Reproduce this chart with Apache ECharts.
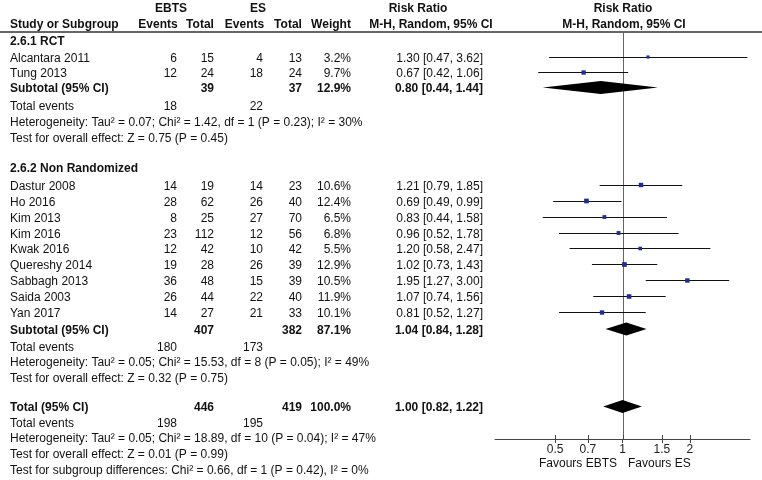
<!DOCTYPE html>
<html><head><meta charset="utf-8">
<script src="https://cdn.jsdelivr.net/npm/echarts@6/dist/echarts.min.js"></script>
<style>html,body{margin:0;padding:0;background:#fff}#c{width:762px;height:480px}</style>
</head><body><div id="c"></div>
<script>
// ---------- data ----------
const studies = ['Alcantara 2011','Tung 2013','Dastur 2008','Ho 2016','Kim 2013','Kim 2016','Kwak 2016','Quereshy 2014','Sabbagh 2013','Saida 2003','Yan 2017'];
const ebtsEvents = [6,12,14,28,8,23,12,19,36,26,14];
const ebtsTotal = [15,24,19,62,25,112,42,28,48,44,27];
const esEvents = [4,18,14,26,27,12,10,26,15,22,21];
const esTotal = [13,24,23,40,70,56,42,39,39,40,33];
const weights = [3.2,9.7,10.6,12.4,6.5,6.8,5.5,12.9,10.5,11.9,10.1];
const rr = [1.30,0.67,1.21,0.69,0.83,0.96,1.20,1.02,1.95,1.07,0.81];
const rrLow = [0.47,0.42,0.79,0.49,0.44,0.52,0.58,0.73,1.27,0.74,0.52];
const rrHigh = [3.62,1.06,1.85,0.99,1.58,1.78,2.47,1.43,3.00,1.56,1.27];

const groupTitles = ['2.6.1 RCT','2.6.2 Non Randomized'];
const pooledNames = ['Subtotal (95% CI)','Subtotal (95% CI)','Total (95% CI)'];
const pooledEbtsTotal = [39,407,446];
const pooledEsTotal = [37,382,419];
const pooledWeight = [12.9,87.1,100.0];
const pooledRR = [0.80,1.04,1.00];
const pooledLow = [0.44,0.84,0.82];
const pooledHigh = [1.44,1.28,1.22];
const totalEventsEbts = [18,180,198];
const totalEventsEs = [22,173,195];
const heterogeneity = [
  'Heterogeneity: Tau\u00b2 = 0.07; Chi\u00b2 = 1.42, df = 1 (P = 0.23); I\u00b2 = 30%',
  'Heterogeneity: Tau\u00b2 = 0.05; Chi\u00b2 = 15.53, df = 8 (P = 0.05); I\u00b2 = 49%',
  'Heterogeneity: Tau\u00b2 = 0.05; Chi\u00b2 = 18.89, df = 10 (P = 0.04); I\u00b2 = 47%'
];
const overallEffect = [
  'Test for overall effect: Z = 0.75 (P = 0.45)',
  'Test for overall effect: Z = 0.32 (P = 0.75)',
  'Test for overall effect: Z = 0.01 (P = 0.99)'
];
const subgroupTest = 'Test for subgroup differences: Chi\u00b2 = 0.66, df = 1 (P = 0.42), I\u00b2 = 0%';
const tickValues = [0.5,0.7,1,1.5,2];
const favours = ['Favours EBTS','Favours ES'];

// ---------- layout ----------
const studyY = [58.5,74,186.5,202.5,218.5,234.5,250,266,282,298,314];
const groupY = [42,169];
const pooledY = [89,330.5,408];
const totEvY = [107,348,424];
const hetY = [123,363,439];
const effY = [139,379,455];
const subgroupY = 471;
const col = {name:10, ebE:177, ebT:214, esE:263, esT:302, w:351, rr:483};
const FONT = '"Liberation Sans", Arial, sans-serif';
const TXT = '#111';

const g = [];
function t(x, y, text, align, bold) {
  g.push({type:'text', x:x, y:y, silent:true,
    style:{text:String(text), fill:TXT, font:(bold?'bold ':'')+'12px '+FONT,
      align:align||'left', verticalAlign:'middle'}});
}
// header
t(171,9,'EBTS','center',true); t(258,9,'ES','center',true);
t(418,9,'Risk Ratio','center',true); t(623,9,'Risk Ratio','center',true);
t(col.name,25,'Study or Subgroup','left',true);
t(158,25,'Events','center',true); t(200,25,'Total','center',true);
t(244.5,25,'Events','center',true); t(288,25,'Total','center',true);
t(331,25,'Weight','center',true);
t(431,25,'M-H, Random, 95% CI','center',true);
t(624,25,'M-H, Random, 95% CI','center',true);
g.push({type:'line', silent:true, shape:{x1:0,y1:32,x2:762,y2:32}, style:{stroke:'#666', lineWidth:2}});

const fmtRR = (a,b,c) => a.toFixed(2)+' ['+b.toFixed(2)+', '+c.toFixed(2)+']';
groupTitles.forEach((s,i)=>t(col.name,groupY[i],s,'left',true));
studies.forEach((s,i)=>{
  const y = studyY[i];
  t(col.name,y,s);
  t(col.ebE,y,ebtsEvents[i],'right'); t(col.ebT,y,ebtsTotal[i],'right');
  t(col.esE,y,esEvents[i],'right'); t(col.esT,y,esTotal[i],'right');
  t(col.w,y,weights[i].toFixed(1)+'%','right');
  t(col.rr,y,fmtRR(rr[i],rrLow[i],rrHigh[i]),'right');
});
pooledNames.forEach((s,i)=>{
  const y = pooledY[i];
  t(col.name,y,s,'left',true);
  t(col.ebT,y,pooledEbtsTotal[i],'right',true);
  t(col.esT,y,pooledEsTotal[i],'right',true);
  t(col.w,y,pooledWeight[i].toFixed(1)+'%','right',true);
  t(col.rr,y,fmtRR(pooledRR[i],pooledLow[i],pooledHigh[i]),'right',true);
  t(col.name,totEvY[i],'Total events');
  t(col.ebE,totEvY[i],totalEventsEbts[i],'right');
  t(col.esE,totEvY[i],totalEventsEs[i],'right');
  t(col.name,hetY[i],heterogeneity[i]);
  t(col.name,effY[i],overallEffect[i]);
});
t(col.name,subgroupY,subgroupTest);
t(617,464,favours[0],'right'); t(628,464,favours[1],'left');

// ---------- chart ----------
const log = Math.log10;
const ciData = studies.map((s,i)=>[log(rrLow[i]),log(rrHigh[i]),log(rr[i]),studyY[i]-2,weights[i]]);
const diaData = pooledNames.map((s,i)=>[log(pooledLow[i]),log(pooledHigh[i]),log(pooledRR[i]),pooledY[i]-1.5]);
const tickData = tickValues.map(v=>[log(v)]);

const chart = echarts.init(document.getElementById('c'), null, {renderer:'canvas'});
chart.setOption({
  animation:false,
  backgroundColor:'#fff',
  grid:{left:495, width:255, top:0, height:439, containLabel:false},
  xAxis:{type:'value', min:-0.57, max:0.57, position:'bottom', splitLine:{show:false},
    axisLine:{show:true, onZero:false, lineStyle:{color:'#444', width:1}},
    axisTick:{show:true, inside:false, length:4, customValues:tickValues.map(log), lineStyle:{color:'#444'}},
    axisLabel:{show:true, margin:5, customValues:tickValues.map(log), color:'#222', fontSize:12, fontFamily:FONT,
      formatter:v=>String(parseFloat(Math.pow(10,v).toFixed(2)))}
  },
  yAxis:{type:'value', min:0, max:439, inverse:true, show:false},
  series:[
    {type:'custom', data:[[0,32,439]], silent:true, z:1,
      renderItem:(p,api)=>{
        const a=api.coord([api.value(0),api.value(1)]), b=api.coord([api.value(0),api.value(2)]);
        return {type:'line', shape:{x1:Math.round(a[0])+0.5,y1:a[1],x2:Math.round(b[0])+0.5,y2:b[1]}, style:{stroke:'#666',lineWidth:1}};
      }},
    {type:'custom', data:tickData, silent:true, z:1,
      renderItem:(p,api)=>{
        const a=api.coord([api.value(0),439]);
        const x=Math.round(a[0])+0.5;
        return {type:'line', shape:{x1:x,y1:a[1]-4,x2:x,y2:a[1]}, style:{stroke:'#444',lineWidth:1}};
      }},
    {type:'custom', data:ciData, silent:true, z:3,
      renderItem:(p,api)=>{
        const y=api.value(3);
        const a=api.coord([api.value(0),y]), b=api.coord([api.value(1),y]), c=api.coord([api.value(2),y]);
        const s=1.5+Math.sqrt(api.value(4))*0.9;
        return {type:'group', children:[
          {type:'line', shape:{x1:a[0],y1:Math.round(a[1])+0.5,x2:b[0],y2:Math.round(b[1])+0.5}, style:{stroke:'#111',lineWidth:1}},
          {type:'rect', shape:{x:c[0]-s/2,y:c[1]-s/2+0.5,width:s,height:s}, style:{fill:'#1c2f8f'}}
        ]};
      }},
    {type:'custom', data:diaData, silent:true, z:3,
      renderItem:(p,api)=>{
        const y=api.value(3);
        const a=api.coord([api.value(0),y]), b=api.coord([api.value(1),y]), c=api.coord([api.value(2),y]);
        const h=6.5;
        return {type:'polygon', shape:{points:[[a[0],a[1]],[c[0],c[1]-h],[b[0],b[1]],[c[0],c[1]+h]]}, style:{fill:'#000'}};
      }}
  ],
  graphic:g
});
</script></body></html>
